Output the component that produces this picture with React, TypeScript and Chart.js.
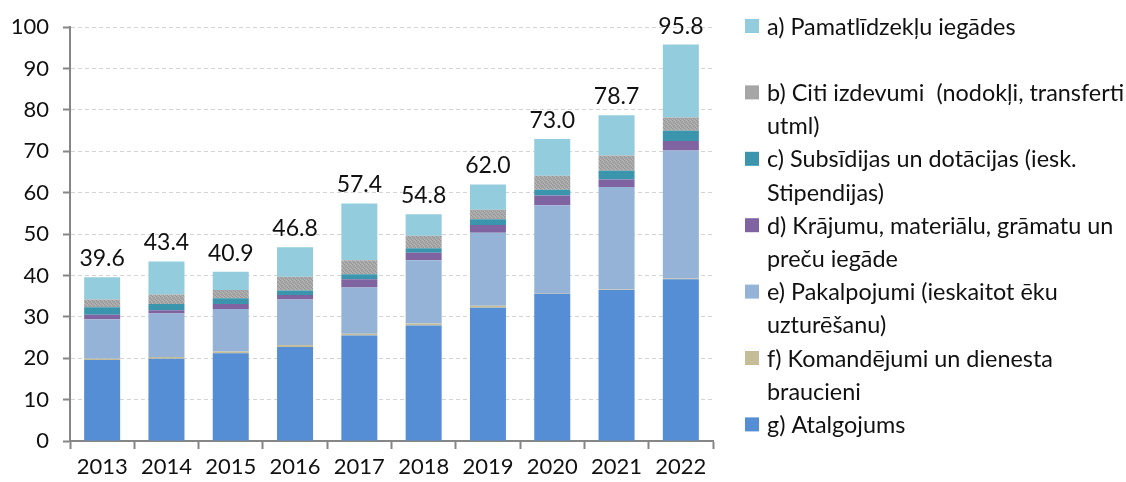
import React, { useEffect, useRef } from "react";
import { Chart, registerables } from "chart.js";

Chart.register(...registerables);

const years = ["2013", "2014", "2015", "2016", "2017", "2018", "2019", "2020", "2021", "2022"];
const atalgojums = [19.6, 19.9, 21.2, 22.7, 25.5, 27.9, 32.2, 35.6, 36.5, 39.1];
const komandejumi = [0.3, 0.4, 0.4, 0.5, 0.4, 0.5, 0.5, 0.1, 0.1, 0.2];
const pakalpojumi = [9.5, 10.5, 10.3, 11.0, 11.2, 15.3, 17.6, 21.3, 24.8, 30.9];
const krajumi = [1.1, 0.8, 1.2, 1.1, 2.0, 1.8, 1.9, 2.3, 1.8, 2.3];
const subsidijas = [1.8, 1.5, 1.4, 1.1, 1.2, 1.1, 1.4, 1.4, 2.1, 2.5];
const citi = [1.9, 2.3, 2.0, 3.3, 3.4, 3.0, 2.3, 3.4, 3.7, 3.2];
const pamatlidzekli = [5.4, 8.0, 4.4, 7.1, 13.7, 5.2, 6.1, 8.9, 9.7, 17.6];
const totals = [39.6, 43.4, 40.9, 46.8, 57.4, 54.8, 62.0, 73.0, 78.7, 95.8];

const labelA = "a) Pamatlīdzekļu iegādes";
const labelB = "b) Citi izdevumi  (nodokļi, transferti\nutml)";
const labelC = "c) Subsīdijas un dotācijas (iesk.\nStipendijas)";
const labelD = "d) Krājumu, materiālu, grāmatu un\npreču iegāde";
const labelE = "e) Pakalpojumi (ieskaitot ēku\nuzturēšanu)";
const labelF = "f) Komandējumi un dienesta\nbraucieni";
const labelG = "g) Atalgojums";

const FONT = "Lato";

function makeGrayPattern(): CanvasPattern | string {
  const c = document.createElement("canvas");
  c.width = 4;
  c.height = 4;
  const g = c.getContext("2d");
  if (!g) return "#a6a6a6";
  g.fillStyle = "#a8a8a8";
  g.fillRect(0, 0, 4, 4);
  g.fillStyle = "#959595";
  g.fillRect(0, 0, 1, 1);
  g.fillRect(2, 1, 1, 1);
  g.fillRect(1, 2, 1, 1);
  g.fillRect(3, 3, 1, 1);
  g.fillStyle = "#b8b8b8";
  g.fillRect(2, 0, 1, 1);
  g.fillRect(0, 3, 1, 1);
  g.fillRect(3, 1, 1, 1);
  const p = g.createPattern(c, "repeat");
  return p || "#a6a6a6";
}

export default function App() {
  const ref = useRef<HTMLCanvasElement | null>(null);

  useEffect(() => {
    document.body.style.margin = "0";
    const canvas = ref.current;
    if (!canvas) return;
    const gray = makeGrayPattern();

    const datasets = [
      { label: labelG, data: atalgojums, backgroundColor: "#558ed5", swatch: "#558ed5" },
      { label: labelF, data: komandejumi, backgroundColor: "#c4bd97", swatch: "#c4bd97" },
      { label: labelE, data: pakalpojumi, backgroundColor: "#95b3d7", swatch: "#95b3d7" },
      { label: labelD, data: krajumi, backgroundColor: "#8064a2", swatch: "#8064a2" },
      { label: labelC, data: subsidijas, backgroundColor: "#3a95ad", swatch: "#3a95ad" },
      { label: labelB, data: citi, backgroundColor: gray, swatch: "#a6a6a6" },
      { label: labelA, data: pamatlidzekli, backgroundColor: "#93cddd", swatch: "#93cddd" },
    ];

    const totalsPlugin = {
      id: "totalsPlugin",
      afterDatasetsDraw(chart: any) {
        const ctx = chart.ctx;
        const meta = chart.getDatasetMeta(chart.data.datasets.length - 1);
        ctx.save();
        ctx.font = `23px ${FONT}`;
        ctx.fillStyle = "#111";
        ctx.textAlign = "center";
        ctx.textBaseline = "alphabetic";
        const yScale = chart.scales.y;
        meta.data.forEach((el: any, i: number) => {
          const y = yScale.getPixelForValue(totals[i]);
          ctx.fillText(totals[i].toFixed(1), el.x, y - 11);
        });
        ctx.restore();
      },
    };

    const legendPlugin = {
      id: "sideLegend",
      afterDraw(chart: any) {
        const ctx = chart.ctx;
        ctx.save();
        ctx.font = `23.4px ${FONT}`;
        ctx.textBaseline = "middle";
        ctx.textAlign = "left";
        const lineH = 33.2;
        const top = 26;
        const items = chart.data.datasets.slice().reverse();
        items.forEach((ds: any, i: number) => {
          const yc = top + i * 2 * lineH;
          ctx.fillStyle = ds.swatch;
          ctx.fillRect(745, yc - 7, 14, 14);
          ctx.fillStyle = "#111";
          const lines = String(ds.label).split("\n");
          lines.forEach((ln: string, j: number) => {
            ctx.fillText(ln, 767, yc + j * lineH + 1);
          });
        });
        ctx.restore();
      },
    };

    const chart = new Chart(canvas, {
      type: "bar",
      data: { labels: years, datasets: datasets as any },
      options: {
        responsive: false,
        animation: false,
        layout: { padding: { left: 8, right: 413, top: 21, bottom: 0 } },
        plugins: {
          legend: { display: false },
          tooltip: { enabled: false },
        },
        datasets: {
          bar: { barPercentage: 0.56, categoryPercentage: 1, borderWidth: 0 },
        },
        scales: {
          x: {
            stacked: true,
            grid: {
              drawOnChartArea: false,
              offset: true,
              tickLength: 8,
              tickColor: "#868686",
              tickWidth: 2,
            },
            border: { color: "#868686", width: 2 },
            ticks: { font: { family: FONT, size: 22 }, color: "#111", padding: 5 },
            afterFit(scale: any) {
              scale.height = 41;
            },
          },
          y: {
            stacked: true,
            min: 0,
            max: 100,
            ticks: {
              stepSize: 10,
              font: { family: FONT, size: 22 },
              color: "#111",
              padding: 14,
            },
            grid: {
              color: "#d4d4d4",
              lineWidth: 1,
              tickLength: 7,
              tickColor: "#868686",
              tickWidth: 2,
            },
            border: { color: "#868686", width: 2, dash: [4, 3] },
            afterFit(scale: any) {
              scale.width = 62;
            },
          },
        },
      },
      plugins: [totalsPlugin, legendPlugin],
    });

    return () => chart.destroy();
  }, []);

  return (
    <div style={{ width: 1126, height: 482, overflow: "hidden", background: "#fff" }}>
      <canvas ref={ref} width={1126} height={482} />
    </div>
  );
}
